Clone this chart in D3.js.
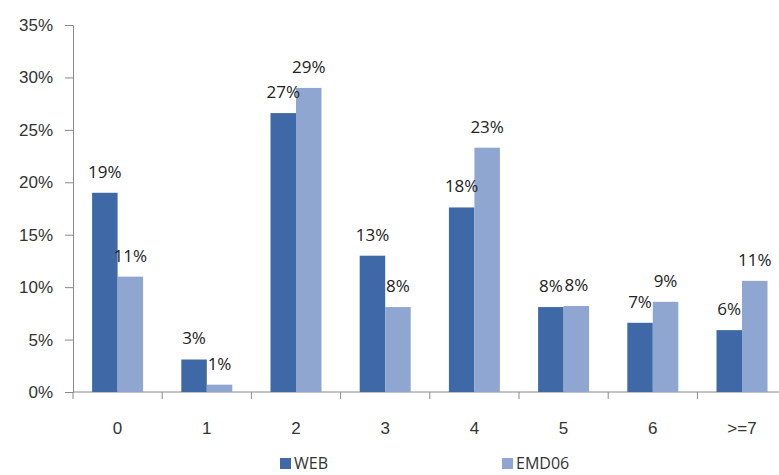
<!DOCTYPE html>
<html>
<head>
<meta charset="utf-8">
<script src="https://cdn.jsdelivr.net/npm/d3@7"></script>
<style>
  body { margin: 0; background: #fff; }
  svg { display: block; font-family: 'Open Sans', sans-serif; }
  .axis path, .axis line { stroke: #8a8a8a; }
  .axis text { fill: #333; font-size: 17px; }
</style>
</head>
<body>
<svg width="779" height="475"></svg>
<script>
// chart data
const categories = ['0', '1', '2', '3', '4', '5', '6', '>=7'];
const series = ['WEB', 'EMD06'];
const webValues = [19.0, 3.1, 26.6, 13.0, 17.6, 8.1, 6.6, 5.9];
const emdValues = [11.0, 0.7, 29.0, 8.1, 23.3, 8.2, 8.6, 10.6];
const yTicks = [0, 5, 10, 15, 20, 25, 30, 35];

const colors = { 'WEB': '#3f69a6', 'EMD06': '#8fa6d0' };

const svg = d3.select('svg');

// plot area is cut off on the right, like the original
const x = d3.scaleBand().domain(categories).range([73, 73 + 8 * 89.2]);
const xSub = d3.scaleBand().domain(series).range([19.1, 70.1]);
const y = d3.scaleLinear().domain([0, 35]).range([392, 25]);

const rows = categories.map(function(c, i) {
  return { cat: c, values: [
    { key: 'WEB', value: webValues[i] },
    { key: 'EMD06', value: emdValues[i] },
  ] };
});

// y axis
svg.append('g').attr('class', 'axis')
  .attr('transform', 'translate(73,0)')
  .call(d3.axisLeft(y).tickValues(yTicks).tickSize(8).tickSizeOuter(0).tickPadding(12)
    .tickFormat(function(d) { return d + '%'; }));

// x axis: labels in the middle, tick marks between categories
const xAxis = svg.append('g').attr('class', 'axis')
  .attr('transform', 'translate(0,392)')
  .call(d3.axisBottom(x).tickSize(0).tickPadding(30));
xAxis.select('.domain').attr('d', 'M73,0H779');
xAxis.selectAll('.sep')
  .data(categories)
  .enter().append('line')
  .attr('class', 'sep')
  .attr('x1', function(d) { return x(d); })
  .attr('x2', function(d) { return x(d); })
  .attr('y1', 0).attr('y2', 7);

// bars
const groups = svg.selectAll('.cat')
  .data(rows)
  .enter().append('g')
  .attr('class', 'cat')
  .attr('transform', function(d) { return 'translate(' + x(d.cat) + ',0)'; });

groups.selectAll('rect')
  .data(function(d) { return d.values; })
  .enter().append('rect')
  .attr('x', function(d) { return xSub(d.key); })
  .attr('width', xSub.bandwidth())
  .attr('y', function(d) { return y(d.value); })
  .attr('height', function(d) { return y(0) - y(d.value); })
  .attr('fill', function(d) { return colors[d.key]; });

// value labels
groups.selectAll('text.val')
  .data(function(d) { return d.values; })
  .enter().append('text')
  .attr('class', 'val')
  .attr('x', function(d) { return xSub(d.key) + xSub.bandwidth() / 2; })
  .attr('y', function(d) { return y(d.value) - 15; })
  .attr('text-anchor', 'middle')
  .attr('font-size', 17)
  .attr('fill', '#222')
  .text(function(d) { return Math.round(d.value) + '%'; });

// legend
const legend = svg.selectAll('.legend')
  .data(series)
  .enter().append('g')
  .attr('class', 'legend')
  .attr('transform', function(d, i) { return 'translate(' + [280, 502][i] + ',458)'; });
legend.append('rect')
  .attr('width', 11).attr('height', 11)
  .attr('fill', function(d) { return colors[d]; });
legend.append('text')
  .attr('x', 14).attr('y', 11)
  .attr('font-size', 16)
  .attr('fill', '#333')
  .text(function(d) { return d; });
</script>
</body>
</html>
